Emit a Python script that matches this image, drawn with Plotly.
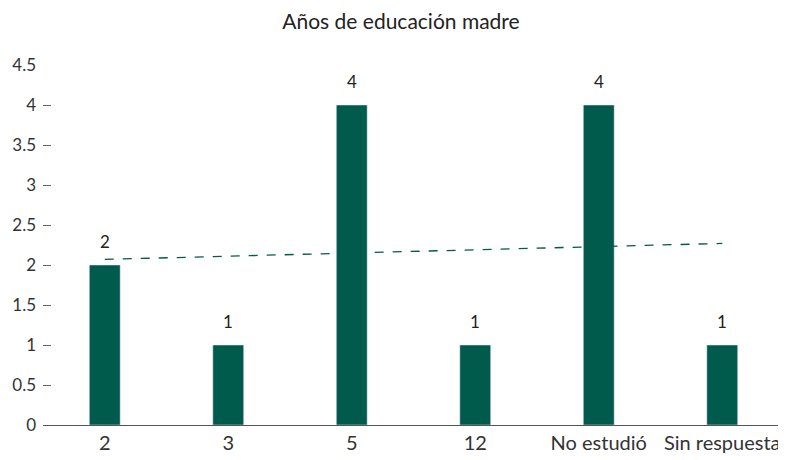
import plotly.graph_objects as go

categories = ["2", "3", "5", "12", "No estudió", "Sin respuesta"]
values = [2, 1, 4, 1, 4, 1]
trend_x = ["2", "Sin respuesta"]
trend_y = [2.07, 2.27]
y_ticks = [0, 0.5, 1, 1.5, 2, 2.5, 3, 3.5, 4, 4.5]

bar_color = "#005B4C"
font_family = "Lato, 'Open Sans', sans-serif"

fig = go.Figure()
fig.add_trace(go.Bar(
    x=categories, y=values, marker_color=bar_color,
    showlegend=False,
))
fig.add_trace(go.Scatter(
    x=trend_x, y=trend_y, mode="lines",
    line=dict(color=bar_color, width=1.3, dash="dash"),
    showlegend=False, hoverinfo="skip",
))
for i, v in enumerate(values):
    fig.add_annotation(x=i, y=v, text=str(v), showarrow=False,
                       yanchor="bottom", yshift=11,
                       font=dict(size=17, color="#222222"))

fig.update_layout(
    width=786, height=460,
    margin=dict(l=35, r=10, t=57, b=43),
    paper_bgcolor="white", plot_bgcolor="white",
    font=dict(family=font_family, color="#333333"),
    title=dict(text="Años de educación madre", x=0.5, xanchor="center",
               y=0.97, yanchor="middle", font=dict(size=21, color="#222222")),
    bargap=0.75,
    xaxis=dict(type="category", categoryorder="array", categoryarray=categories,
               range=[-0.5, 5.5], showgrid=False, showline=True, linecolor="#555555",
               linewidth=1, ticks="", automargin=False, tickangle=0,
               tickfont=dict(size=20, color="#333333")),
    yaxis=dict(range=[0, 4.5], tickvals=y_ticks, ticktext=[str(t) for t in y_ticks],
               showgrid=False, zeroline=False, showline=False, automargin=False,
               ticks="inside", ticklen=8, tickcolor="#666666", tickwidth=1,
               ticklabelstandoff=6,
               tickfont=dict(size=17, color="#333333")),
)
fig.write_html("out.html")
